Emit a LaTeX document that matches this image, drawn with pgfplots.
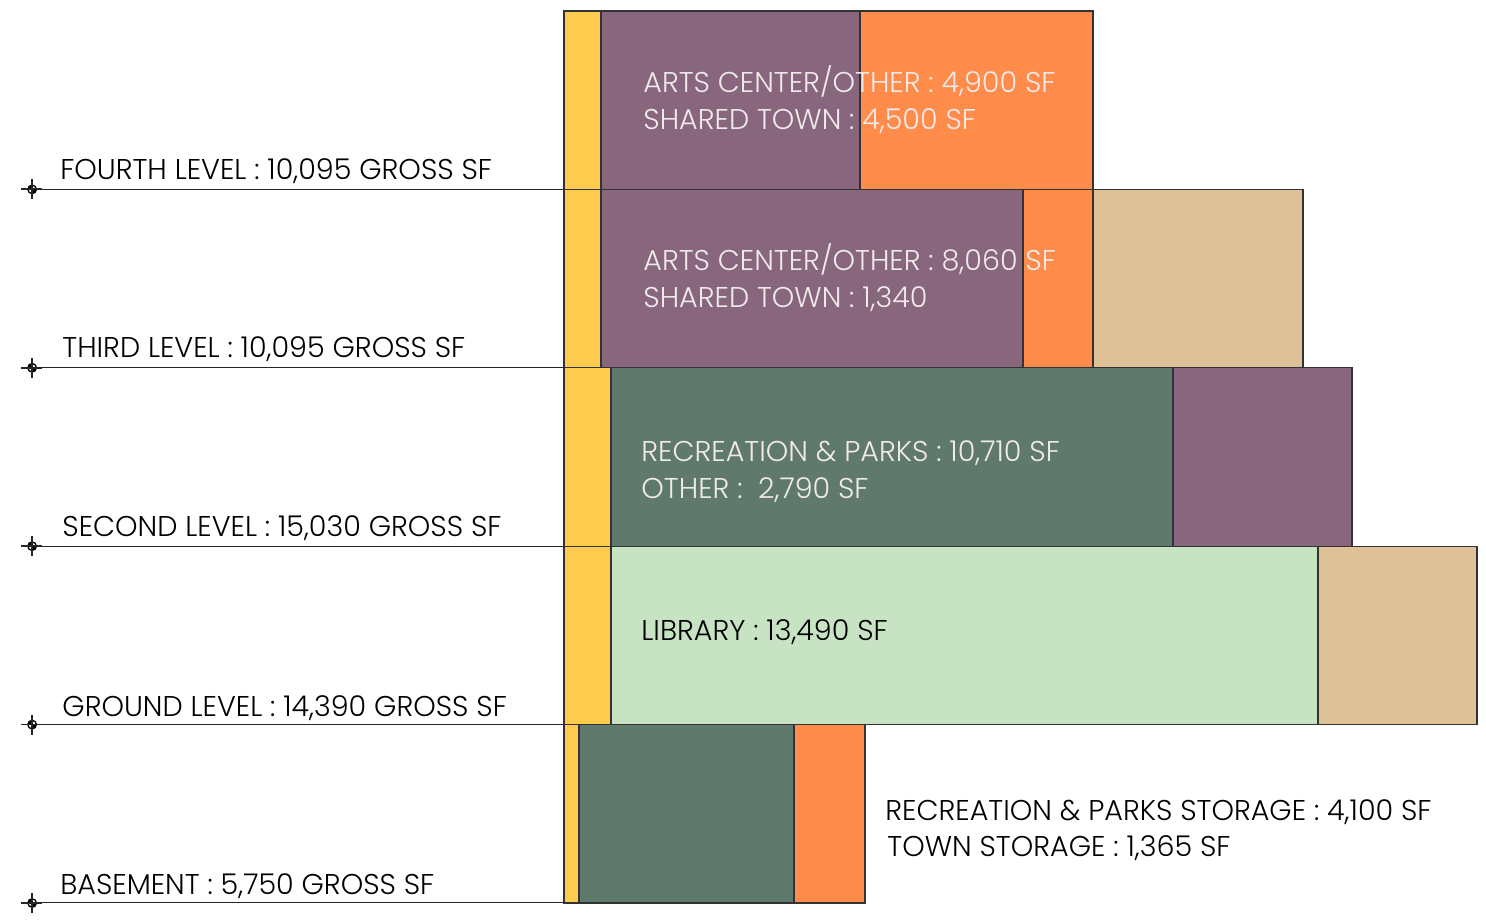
\documentclass[border=0pt]{standalone}
\usepackage{pgfplots}
\pgfplotsset{compat=1.18}
\usepackage{fontspec}
\setmainfont{Poppins}[UprightFont=* Light]
\definecolor{cyel}{HTML}{FDCB4E}
\definecolor{cpur}{HTML}{88667E}
\definecolor{cora}{HTML}{FF8C4A}
\definecolor{ctan}{HTML}{DEC197}
\definecolor{cdg}{HTML}{5F7A6D}
\definecolor{clg}{HTML}{C8E3C4}
\definecolor{ctxt}{HTML}{F0EAEA}
\tikzset{
  lbl/.style={anchor=base west, font=\fontsize{14.3}{16}\selectfont, text=black, inner sep=0pt},
  wlbl/.style={lbl, text=ctxt},
}
\pgfdeclareplotmark{target}{%
  \pgfpathcircle{\pgfpointorigin}{2.5pt}\pgfusepathqfill
  \pgfsetfillcolor{white}%
  \pgfpathmoveto{\pgfpointorigin}\pgfpathlineto{\pgfpoint{1.7pt}{0pt}}%
  \pgfpatharc{0}{90}{1.7pt}\pgfpathclose
  \pgfpathmoveto{\pgfpointorigin}\pgfpathlineto{\pgfpoint{-1.7pt}{0pt}}%
  \pgfpatharc{180}{270}{1.7pt}\pgfpathclose
  \pgfusepathqfill
  \pgfpathmoveto{\pgfpoint{-5.5pt}{0pt}}\pgfpathlineto{\pgfpoint{5pt}{0pt}}
  \pgfpathmoveto{\pgfpoint{0pt}{-5pt}}\pgfpathlineto{\pgfpoint{0pt}{5pt}}
  \pgfusepathqstroke}
\begin{document}
\begin{tikzpicture}
\begin{axis}[
  scale only axis, width=743pt, height=462pt,
  xmin=-10.763, xmax=17.595, ymin=-0.1177, ymax=5.0616,
  hide axis, clip=false,
  xbar stacked, bar width=1,
  every axis plot/.append style={draw=black!80, line width=0.6pt},
]
% yellow
\addplot[fill=cyel] coordinates {(0.286,0.5) (0.897,1.5) (0.897,2.5) (0.706,3.5) (0.706,4.5)};
% dark green
\addplot[fill=cdg] coordinates {(4.103,0.5) (0,1.5) (10.725,2.5) (0,3.5) (0,4.5)};
% light green
\addplot[fill=clg] coordinates {(0,0.5) (13.492,1.5) (0,2.5) (0,3.5) (0,4.5)};
% purple (arts)
\addplot[fill=cpur] coordinates {(0,0.5) (0,1.5) (0,2.5) (8.053,3.5) (4.943,4.5)};
% orange
\addplot[fill=cora] coordinates {(1.355,0.5) (0,1.5) (0,2.5) (1.336,3.5) (4.447,4.5)};
% purple (other)
\addplot[fill=cpur] coordinates {(0,0.5) (0,1.5) (3.416,2.5) (0,3.5) (0,4.5)};
% tan
\addplot[fill=ctan] coordinates {(0,0.5) (3.034,1.5) (0,2.5) (4.008,3.5) (0,4.5)};
\end{axis}
\begin{axis}[
  scale only axis, width=743pt, height=462pt,
  xmin=-10.763, xmax=17.595, ymin=-0.1177, ymax=5.0616,
  hide axis, clip=false,
]
\addplot[draw=none, mark=none, forget plot] coordinates {(-10.763,-0.1177) (17.595,5.0616)};
\addplot[black!85, line width=0.5pt, mark=target, mark options={line width=0.9pt, fill=black}, mark indices={1}] coordinates {(-10.15,0) (0,0)};
\addplot[black!85, line width=0.5pt, mark=target, mark options={line width=0.9pt, fill=black}, mark indices={1}] coordinates {(-10.15,1) (0,1)};
\addplot[black!85, line width=0.5pt, mark=target, mark options={line width=0.9pt, fill=black}, mark indices={1}] coordinates {(-10.15,2) (0,2)};
\addplot[black!85, line width=0.5pt, mark=target, mark options={line width=0.9pt, fill=black}, mark indices={1}] coordinates {(-10.15,3) (0,3)};
\addplot[black!85, line width=0.5pt, mark=target, mark options={line width=0.9pt, fill=black}, mark indices={1}] coordinates {(-10.15,4) (0,4)};
\node[lbl] at (axis cs:-9.62,4.055) {FOURTH LEVEL : 10,095 GROSS SF};
\node[lbl] at (axis cs:-9.58,3.055) {THIRD LEVEL : 10,095 GROSS SF};
\node[lbl] at (axis cs:-9.58,2.052) {SECOND LEVEL : 15,030 GROSS SF};
\node[lbl] at (axis cs:-9.58,1.048) {GROUND LEVEL : 14,390 GROSS SF};
\node[lbl] at (axis cs:-9.62,0.05) {BASEMENT : 5,750 GROSS SF};
\node[wlbl] at (axis cs:1.508,4.543) {ARTS CENTER/OTHER : 4,900 SF};
\node[wlbl] at (axis cs:1.508,4.337) {SHARED TOWN : 4,500 SF};
\node[wlbl] at (axis cs:1.508,3.546) {ARTS CENTER/OTHER : 8,060 SF};
\node[wlbl] at (axis cs:1.508,3.339) {SHARED TOWN : 1,340};
\node[wlbl] at (axis cs:1.47,2.472) {RECREATION \& PARKS : 10,710 SF};
\node[wlbl] at (axis cs:1.47,2.270) {OTHER :\ \ 2,790 SF};
\node[lbl] at (axis cs:1.47,1.474) {LIBRARY : 13,490 SF};
\node[lbl] at (axis cs:6.126,0.465) {RECREATION \& PARKS STORAGE : 4,100 SF};
\node[lbl] at (axis cs:6.164,0.259) {TOWN STORAGE : 1,365 SF};
\end{axis}
\end{tikzpicture}
\end{document}
